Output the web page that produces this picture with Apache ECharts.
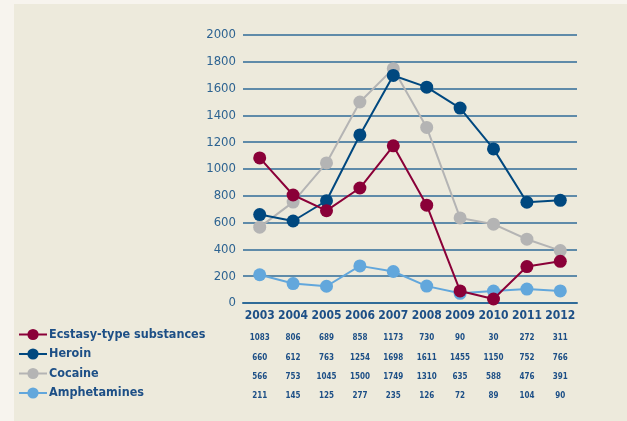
<!DOCTYPE html>
<html>
<head>
<meta charset="utf-8">
<script src="https://cdn.jsdelivr.net/npm/echarts@6/dist/echarts.min.js"></script>
<style>
  html, body { margin: 0; padding: 0; background: #f7f4ee; }
  #panel { position: absolute; left: 14px; top: 4px; right: 0; bottom: 0; background: #edeadc; }
  #chart { position: absolute; left: 0; top: 0; width: 627px; height: 421px; }
</style>
</head>
<body>
<div id="panel"></div>
<div id="chart"></div>
<script>
var years = ['2003', '2004', '2005', '2006', '2007', '2008', '2009', '2010', '2011', '2012'];
var ecstasy = [1083, 806, 689, 858, 1173, 730, 90, 30, 272, 311];
var heroin = [660, 612, 763, 1254, 1698, 1611, 1455, 1150, 752, 766];
var cocaine = [566, 753, 1045, 1500, 1749, 1310, 635, 588, 476, 391];
var amphetamines = [211, 145, 125, 277, 235, 126, 72, 89, 104, 90];
var yTicks = { min: 0, max: 2000, interval: 200 };

var names = ['Ecstasy-type substances', 'Heroin', 'Cocaine', 'Amphetamines'];
var colors = ['#8a0038', '#00487f', '#b4b4b4', '#62a7dc'];
var rows = [ecstasy, heroin, cocaine, amphetamines];

var chartDom = document.getElementById('chart');
var myChart = echarts.init(chartDom, null, { renderer: 'canvas' });
var font = '"DejaVu Sans Condensed", "DejaVu Sans", sans-serif';
var textBlue = '#1d4f86';

// the main axis plus one hidden axis per table row
var xAxes = [{
    type: 'category',
    data: years,
    boundaryGap: true,
    axisLine: { show: true, lineStyle: { color: '#2f6b98', width: 2 } },
    axisTick: { show: false },
    axisLabel: { interval: 0, color: textBlue, fontFamily: font, fontWeight: 'bold', fontSize: 12, margin: 7 }
}];
var rowOffsets = [24, 44, 63, 82];
rows.forEach(function (r, i) {
    xAxes.push({
        type: 'category',
        position: 'bottom',
        offset: rowOffsets[i],
        data: r.map(String),
        boundaryGap: true,
        axisLine: { show: false },
        axisTick: { show: false },
        axisLabel: { interval: 0, color: textBlue, fontFamily: font, fontWeight: 'bold', fontSize: 8, margin: 7 }
    });
});

var option = {
    animation: false,
    backgroundColor: 'transparent',
    grid: { left: 243, right: 50, top: 35, bottom: 118 },
    legend: {
        orient: 'vertical',
        left: 13,
        top: 323,
        itemGap: 6.5,
        itemWidth: 28,
        itemHeight: 14,
        data: names,
        textStyle: { color: textBlue, fontFamily: font, fontWeight: 'bold', fontSize: 12.5, padding: [0, 0, 0, -3] }
    },
    xAxis: xAxes,
    yAxis: {
        type: 'value',
        min: yTicks.min,
        max: yTicks.max,
        interval: yTicks.interval,
        axisLine: { show: false },
        axisTick: { show: false },
        axisLabel: { formatter: function (v) { return String(v); }, color: '#2d6391', fontFamily: font, fontSize: 13, margin: 7 },
        splitLine: { lineStyle: { color: '#2f6b98', width: 1.5 } }
    },
    series: names.map(function (n, i) {
        return {
            name: n,
            type: 'line',
            data: rows[i],
            color: colors[i],
            symbol: 'circle',
            symbolSize: 13,
            lineStyle: { width: 2 },
            z: i === 3 ? 1 : 4 - i
        };
    })
};

option && myChart.setOption(option);
</script>
</body>
</html>
